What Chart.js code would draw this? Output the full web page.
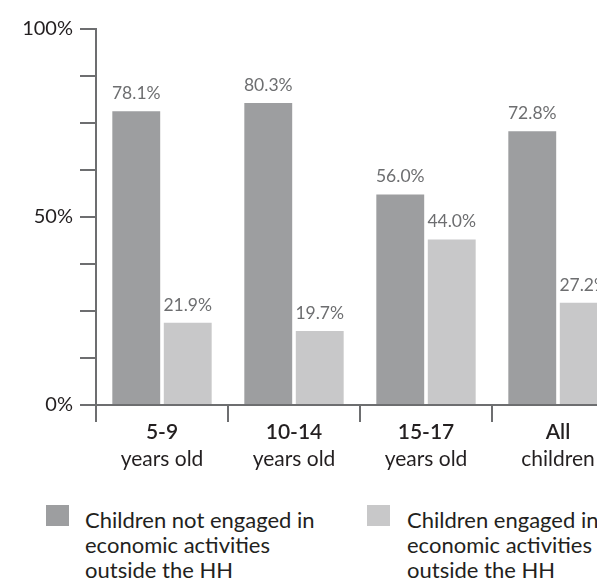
<!DOCTYPE html>
<html lang="en">
<head>
  <meta charset="UTF-8" />
  <title>Children engaged in economic activities</title>
  <script src="https://cdn.jsdelivr.net/npm/chart.js"></script>
  <style>
    html, body {
      margin: 0;
      padding: 0;
      overflow: hidden;
      background: #fff;
      font-family: Lato, "DejaVu Sans", sans-serif;
    }
    .wrap {
      position: relative;
      width: 597px;
      height: 582px;
      overflow: hidden;
    }
    #chart {
      position: absolute;
      left: 0;
      top: 0;
    }
    .legend-item {
      position: absolute;
      top: 505px;
      font-size: 22px;
      line-height: 25px;
      color: #231f20;
    }
    .legend-item .swatch {
      position: absolute;
      left: 0;
      top: 0;
      width: 23px;
      height: 21px;
    }
    .legend-item .text {
      position: absolute;
      top: 2px;
      white-space: nowrap;
    }
  </style>
</head>
<body>
  <div class="wrap">
    <canvas id="chart" width="640" height="480"></canvas>
    <div id="legend"></div>
  </div>

  <script>
    // data
    const categories = [["5-9", "years old"], ["10-14", "years old"], ["15-17", "years old"], ["All", "children"]];
    const notEngaged = [78.1, 80.3, 56.0, 72.8];
    const engaged = [21.9, 19.7, 44.0, 27.2];
    const seriesNames = [
      ["Children not engaged in", "economic activities", "outside the HH"],
      ["Children engaged in", "economic activities", "outside the HH"]
    ];
    const seriesColors = ["#9d9ea0", "#c8c8c9"];
    const yLabelled = [0, 50, 100];

    const axisColor = "#6d6e70";

    // value labels above each bar
    const valueLabels = {
      id: "valueLabels",
      afterDatasetsDraw(chart) {
        const ctx = chart.ctx;
        ctx.save();
        ctx.font = "17.5px Lato";
        ctx.fillStyle = "#6d6e70";
        ctx.textAlign = "center";
        ctx.textBaseline = "bottom";
        chart.data.datasets.forEach((ds, i) => {
          chart.getDatasetMeta(i).data.forEach((bar, j) => {
            ctx.fillText(ds.data[j].toFixed(1) + "%", bar.x, bar.y - 9);
          });
        });
        ctx.restore();
      }
    };

    // two-line category labels, first line a bit heavier
    const catLabels = {
      id: "catLabels",
      afterDraw(chart) {
        const ctx = chart.ctx;
        const x = chart.scales.x;
        const base = chart.chartArea.bottom;
        ctx.save();
        ctx.fillStyle = "#231f20";
        ctx.textAlign = "center";
        ctx.textBaseline = "middle";
        categories.forEach((lines, i) => {
          const px = x.getPixelForValue(i);
          ctx.font = "600 21px Lato";
          ctx.fillText(lines[0], px, base + 27);
          ctx.font = "21px Lato";
          ctx.fillText(lines[1], px, base + 54);
        });
        ctx.restore();
      }
    };

    const ctx = document.getElementById("chart").getContext("2d");
    new Chart(ctx, {
      type: "bar",
      data: {
        labels: categories.map(c => c.join(" ")),
        datasets: [
          { label: seriesNames[0].join(" "), data: notEngaged, backgroundColor: seriesColors[0] },
          { label: seriesNames[1].join(" "), data: engaged, backgroundColor: seriesColors[1] }
        ]
      },
      options: {
        responsive: false,
        animation: false,
        layout: { padding: { top: 29, right: 16, left: 0, bottom: 0 } },
        datasets: { bar: { categoryPercentage: 0.78, barPercentage: 0.93 } },
        plugins: {
          legend: { display: false },
          tooltip: { enabled: false }
        },
        scales: {
          x: {
            grid: { offset: true, drawOnChartArea: false, tickLength: 17, color: axisColor, lineWidth: 2 },
            border: { color: axisColor, width: 2 },
            ticks: { display: false },
            afterFit: s => { s.height = 75; }
          },
          y: {
            min: 0,
            max: 100,
            ticks: {
              stepSize: 12.5,
              padding: 7,
              color: "#231f20",
              font: { family: "Lato", size: 20 },
              callback: v => yLabelled.includes(v) ? v + "%" : ""
            },
            grid: { drawOnChartArea: false, tickLength: 16, color: axisColor, lineWidth: 2 },
            border: { color: axisColor, width: 2 },
            afterFit: s => { s.width = 96; }
          }
        }
      },
      plugins: [valueLabels, catLabels]
    });

    // legend built from the series arrays
    const legend = document.getElementById("legend");
    const legendX = [46, 367];
    const textX = [39, 40];
    seriesNames.forEach((lines, i) => {
      const item = document.createElement("div");
      item.className = "legend-item";
      item.style.left = legendX[i] + "px";
      item.innerHTML = '<div class="swatch" style="background:' + seriesColors[i] + '"></div>' +
        '<div class="text" style="left:' + textX[i] + 'px">' + lines.join("<br>") + "</div>";
      legend.appendChild(item);
    });
  </script>
</body>
</html>
